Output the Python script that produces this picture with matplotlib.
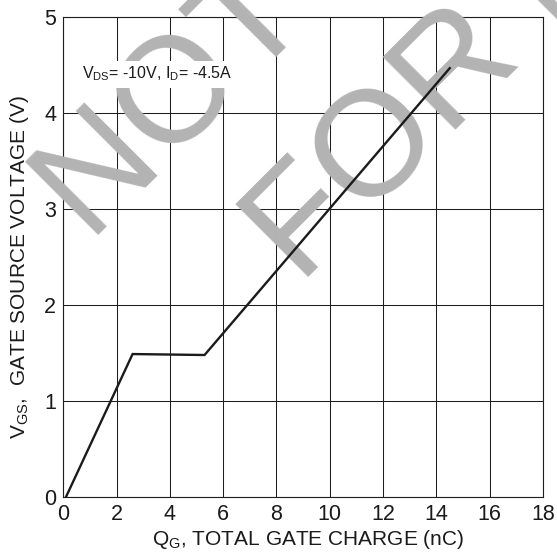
import matplotlib
matplotlib.use("Agg")
import matplotlib.pyplot as plt

plt.rcParams["font.family"] = ["Liberation Sans", "DejaVu Sans"]
plt.rcParams["mathtext.fontset"] = "custom"
plt.rcParams["mathtext.rm"] = "Liberation Sans"
plt.rcParams["mathtext.it"] = "Liberation Sans:italic"
plt.rcParams["mathtext.bf"] = "Liberation Sans:bold"

# Gate charge curve (nC vs V)
qg = [0.1, 2.6, 5.3, 14.5]
vgs = [0.0, 1.49, 1.48, 4.47]

x_ticks = [0, 2, 4, 6, 8, 10, 12, 14, 16, 18]
y_ticks = [0, 1, 2, 3, 4, 5]

condition = r"$\mathregular{V_{DS}}$= -10V, $\mathregular{I_D}$= -4.5A"
x_label = r"$\mathregular{Q_G}$, TOTAL GATE CHARGE (nC)"
y_label = r"$\mathregular{V_{GS}}$,  GATE SOURCE VOLTAGE (V)"
stamp_lines = ["NOT RECOMMENDED", "FOR NEW DESIGN"]

W, H = 557, 553
fig = plt.figure(figsize=(W / 100, H / 100), dpi=100)
left, right, top, bottom = 63.3, 543.0, 17.3, 497.0
ax = fig.add_axes([left / W, (H - bottom) / H, (right - left) / W, (bottom - top) / H])

ax.set_xlim(0, 18)
ax.set_ylim(0, 5)
ax.set_xticks(x_ticks)
ax.set_yticks(y_ticks)
ax.set_axisbelow(True)
ax.grid(True, color="#1e1e1e", lw=0.75)
ax.tick_params(length=0, pad=5, labelsize=15.5, colors="#1a1a1a")
for s in ax.spines.values():
    s.set_linewidth(0.8)
    s.set_color("#1e1e1e")

ax.plot(qg, vgs, color="#1c1a1a", lw=1.7, zorder=4, solid_joinstyle="miter")

ax.text(0.70, 4.36, condition, fontsize=11.5, ha="left", va="baseline",
        color="#1a1a1a", zorder=3.5,
        bbox=dict(facecolor="white", edgecolor="none", pad=3))

# axis titles
ax.text(308 / W, 1 - 545 / H, x_label, transform=fig.transFigure, fontsize=15,
        ha="center", va="baseline", color="#1a1a1a", zorder=1, clip_on=False)
ax.text(19.5 / W, 1 - 267 / H, y_label, transform=fig.transFigure, fontsize=15,
        rotation=90, ha="center", va="center", color="#1a1a1a", zorder=1,
        clip_on=False)

# diagonal stamp across the plot
origins = [(90, 243), (300, 285)]
for txt, (px, py) in zip(stamp_lines, origins):
    ax.text(px / W, 1 - py / H, txt, transform=fig.transFigure, fontsize=108,
            rotation=45, rotation_mode="anchor", ha="left", va="baseline",
            color="#b3b3b3", zorder=2.6, clip_on=False)

fig.savefig("out.png", dpi=100)
